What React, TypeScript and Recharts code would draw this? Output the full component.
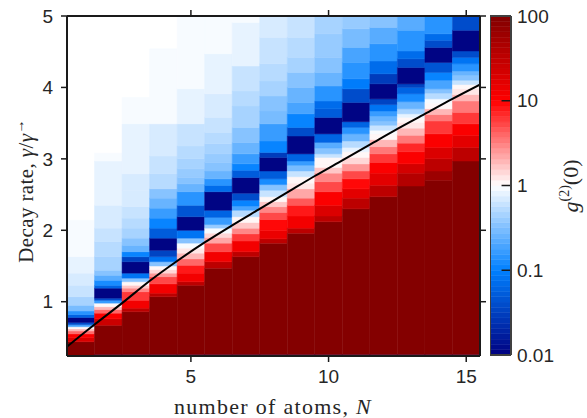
import React from 'react';
import { ComposedChart, XAxis, YAxis, ReferenceArea, ReferenceLine, Line } from 'recharts';

// number of atoms (columns)
const atomCounts = [1, 2, 3, 4, 5, 6, 7, 8, 9, 10, 11, 12, 13, 14, 15];
const gammaRange = [0.24, 5];

// each column: bands from the bottom up, [upper edge in gamma/gamma->, log10 g2(0)]
const col1 = [[0.44, 2.0], [0.5, 1.3], [0.55, 1.0], [0.59, 0.6], [0.62, 0.3], [0.65, 0.0], [0.68, -0.7], [0.71, -1.4], [0.78, -1.95], [0.82, -1.2], [0.87, -0.85], [0.95, -0.55], [1.07, -0.35], [1.23, -0.25], [1.4, -0.17], [1.63, -0.11], [2.14, -0.05]];
const col2 = [[0.26, -2], [0.67, 2.0], [0.76, 1.4], [0.84, 1.0], [0.89, 0.6], [0.93, 0.25], [0.98, 0.0], [1.02, -0.8], [1.05, -1.4], [1.19, -1.95], [1.23, -1.2], [1.3, -0.9], [1.37, -0.65], [1.44, -0.5], [1.63, -0.35], [1.84, -0.27], [2.03, -0.2], [2.35, -0.15], [2.97, -0.1], [3.08, -0.05]];
const col3 = [[0.26, -2], [0.86, 2.0], [0.91, 1.5], [1.02, 1.1], [1.14, 0.8], [1.19, 0.45], [1.23, 0.2], [1.28, 0.0], [1.33, -0.5], [1.4, -1.1], [1.56, -1.95], [1.63, -1.5], [1.7, -1.0], [1.79, -0.57], [1.89, -0.45], [2.03, -0.35], [2.17, -0.27], [2.33, -0.22], [2.56, -0.18], [2.79, -0.15], [3.04, -0.12], [3.49, -0.08], [3.86, -0.05]];
const col4 = [[0.26, -2], [1.07, 2.0], [1.12, 1.5], [1.25, 1.1], [1.35, 0.7], [1.4, 0.4], [1.45, 0.15], [1.5, 0.0], [1.56, -0.5], [1.63, -1.1], [1.72, -1.5], [1.89, -1.95], [2.03, -1.3], [2.17, -1.0], [2.31, -0.76], [2.45, -0.61], [2.58, -0.45], [2.79, -0.3], [3.04, -0.22], [3.49, -0.14], [4.54, -0.06]];
const col5 = [[0.26, -2], [1.23, 2.0], [1.28, 1.5], [1.4, 1.1], [1.51, 0.9], [1.6, 0.6], [1.68, 0.3], [1.75, 0.1], [1.82, -0.05], [1.89, -0.5], [2.0, -1.1], [2.19, -1.95], [2.35, -1.35], [2.54, -0.84], [2.65, -0.61], [2.74, -0.5], [2.86, -0.4], [3.0, -0.33], [3.18, -0.27], [3.49, -0.2], [3.98, -0.12], [5.0, -0.06]];
const col6 = [[0.26, -2], [1.47, 2.0], [1.56, 1.5], [1.7, 1.1], [1.82, 0.7], [1.9, 0.35], [1.96, 0.15], [2.03, -0.03], [2.08, -0.4], [2.18, -0.8], [2.28, -1.2], [2.54, -1.95], [2.63, -1.15], [2.72, -0.84], [2.83, -0.61], [2.95, -0.45], [3.07, -0.4], [3.21, -0.33], [3.37, -0.28], [3.58, -0.22], [3.91, -0.14], [4.47, -0.09], [5.0, -0.06]];
const col7 = [[0.26, -2], [1.63, 2.0], [1.7, 1.5], [1.85, 1.1], [1.95, 0.8], [2.03, 0.45], [2.11, 0.2], [2.19, 0.0], [2.28, -0.3], [2.34, -0.7], [2.42, -1.0], [2.52, -1.4], [2.74, -1.95], [2.84, -1.3], [2.93, -1.0], [3.07, -0.76], [3.23, -0.57], [3.44, -0.45], [3.74, -0.35], [3.95, -0.27], [4.3, -0.2], [4.91, -0.12], [5.0, -0.06]];
const col8 = [[0.26, -2], [1.82, 2.0], [1.88, 1.5], [2.0, 1.15], [2.15, 0.95], [2.25, 0.7], [2.33, 0.45], [2.4, 0.2], [2.47, 0.0], [2.56, -0.25], [2.64, -0.5], [2.72, -0.9], [2.83, -1.3], [3.02, -1.95], [3.09, -1.55], [3.25, -1.0], [3.49, -0.76], [3.67, -0.53], [3.88, -0.45], [4.09, -0.35], [4.33, -0.29], [4.7, -0.23], [5.0, -0.18]];
const col9 = [[0.26, -2], [1.96, 2.0], [2.03, 1.5], [2.2, 1.1], [2.35, 0.9], [2.45, 0.65], [2.58, 0.35], [2.66, 0.12], [2.75, 0.0], [2.83, -0.25], [2.91, -0.53], [2.97, -0.8], [3.07, -1.2], [3.32, -1.95], [3.44, -1.4], [3.63, -1.0], [3.79, -0.73], [4.0, -0.57], [4.21, -0.45], [4.42, -0.37], [4.7, -0.31], [5.0, -0.25]];
const col10 = [[0.26, -2], [2.12, 2.0], [2.2, 1.55], [2.35, 1.25], [2.54, 1.0], [2.68, 0.7], [2.8, 0.45], [2.88, 0.2], [2.93, 0.05], [3.02, 0.0], [3.07, -0.2], [3.15, -0.45], [3.23, -0.65], [3.35, -1.2], [3.58, -1.95], [3.7, -1.3], [3.81, -1.15], [4.02, -0.84], [4.21, -0.61], [4.42, -0.49], [4.75, -0.41], [5.0, -0.33]];
const col11 = [[0.26, -2], [2.3, 2.0], [2.45, 1.5], [2.58, 1.2], [2.72, 0.95], [2.83, 0.7], [2.93, 0.4], [3.02, 0.15], [3.1, 0.0], [3.16, -0.1], [3.25, -0.3], [3.35, -0.61], [3.44, -0.85], [3.52, -1.2], [3.79, -1.95], [3.98, -1.4], [4.12, -1.05], [4.35, -0.84], [4.56, -0.69], [4.82, -0.53], [5.0, -0.41]];
const col12 = [[0.26, -2], [2.47, 2.0], [2.63, 1.5], [2.8, 1.2], [2.95, 1.0], [3.07, 0.8], [3.17, 0.5], [3.27, 0.25], [3.35, 0.05], [3.4, -0.05], [3.47, -0.25], [3.53, -0.45], [3.6, -0.6], [3.67, -0.8], [3.76, -1.1], [3.84, -1.5], [4.05, -1.95], [4.19, -1.55], [4.37, -1.15], [4.61, -0.84], [4.84, -0.65], [5.0, -0.5]];
const col13 = [[0.26, -2], [2.62, 2.0], [2.8, 1.6], [2.93, 1.35], [3.1, 1.05], [3.22, 0.85], [3.33, 0.55], [3.43, 0.3], [3.51, 0.12], [3.58, 0.0], [3.63, -0.1], [3.7, -0.35], [3.8, -0.6], [3.91, -0.9], [4.0, -1.2], [4.05, -1.5], [4.28, -1.95], [4.4, -1.4], [4.51, -1.15], [4.8, -0.84], [5.0, -0.65]];
const col14 = [[0.26, -2], [2.7, 2.0], [2.83, 1.8], [3.0, 1.5], [3.16, 1.25], [3.35, 1.0], [3.53, 0.8], [3.62, 0.5], [3.7, 0.25], [3.78, 0.05], [3.84, -0.05], [3.92, -0.3], [3.98, -0.5], [4.1, -0.69], [4.21, -0.95], [4.35, -1.35], [4.56, -1.95], [4.66, -1.4], [4.75, -1.15], [5.0, -0.84]];
const col15 = [[0.26, -2], [2.97, 2.0], [3.16, 1.5], [3.33, 1.2], [3.49, 1.0], [3.65, 0.8], [3.81, 0.55], [3.9, 0.3], [3.98, 0.12], [4.04, 0.0], [4.1, -0.2], [4.17, -0.45], [4.23, -0.6], [4.33, -0.84], [4.42, -1.1], [4.51, -1.4], [4.8, -1.95], [5.0, -1.4]];
const columns = [col1, col2, col3, col4, col5, col6, col7, col8, col9, col10, col11, col12, col13, col14, col15];

// black boundary curve
const curveN = [0.5, 1.5, 2.5, 3.5, 4.5, 5.5, 6.5, 7.5, 8.5, 9.5, 10.5, 11.5, 12.5, 13.5, 14.5, 15.5];
const curveGamma = [0.37, 0.68, 0.98, 1.29, 1.57, 1.83, 2.07, 2.3, 2.53, 2.76, 2.98, 3.2, 3.42, 3.63, 3.84, 4.04];

const xRange = [0.5, 15.5];
const xTicks = [5, 10, 15];
const yTicks = [1, 2, 3, 4, 5];
// colorbar in log10 units
const cbRange = [-2, 2];
const cbTicks = [-2, -1, 0, 1, 2];
const cbTickLabels = ['0.01', '0.1', '1', '10', '100'];
const cbInnerTicks = [-1, 0, 1];

const LEVELS = 64;
const AX = '#262626';
const LINE = '#1a1a1a';
const TICK = 6;
const GAP = 8;
const PLOT_W = 413;
const PLOT_H = 340;
// outward tick length expressed in axis units (6 px)
const xTickLen = (xRange[1] - xRange[0]) * TICK / PLOT_W;
const yTickLen = (gammaRange[1] - gammaRange[0]) * TICK / PLOT_H;
const SANS = '"Liberation Sans", Arial, Helvetica, sans-serif';
const SERIF = '"Liberation Serif", "Times New Roman", serif';

function rawColor(v: number): string {
  let r = 0, g = 0, b = 0;
  if (v < -1) { const t = v + 2; r = 0; g = 128 * t; b = 128 + 127 * t; }
  else if (v < 0) { const t = v + 1; r = 255 * t; g = 128 + 127 * t; b = 255; }
  else if (v < 1) { const t = v; r = 255; g = 255 * (1 - t); b = 255 * (1 - t); }
  else { const t = Math.min(v - 1, 1); r = 255 - 127 * t; g = 0; b = 0; }
  return `rgb(${Math.round(r)},${Math.round(g)},${Math.round(b)})`;
}
function levelOf(v: number) {
  return Math.max(0, Math.min(LEVELS - 1, Math.floor((v + 2) * LEVELS / 4)));
}
function levelColor(l: number) {
  return rawColor(-2 + (l + 0.5) * 4 / LEVELS);
}
function color(v: number) {
  return levelColor(levelOf(v));
}

const curveData = curveN.map((n, i) => ({ n, g: curveGamma[i] }));
const cbLevels = Array.from({ length: LEVELS }, (_, i) => i);
const cbData = [{ x: 0 }, { x: 1 }];

const BottomLabel = (p: any) => (
  <text x={p.x} y={p.y} dy="0.71em" textAnchor="middle" fill={AX} fontSize={19} fontFamily={SANS}>{p.payload.value}</text>
);
const LeftLabel = (p: any) => (
  <text x={p.x} y={p.y} dy="0.355em" textAnchor="end" fill={AX} fontSize={19} fontFamily={SANS}>{p.payload.value}</text>
);
const Empty = () => <g />;

export default function App() {
  const cells: React.ReactNode[] = [];
  columns.forEach((segs, ci) => {
    const n = atomCounts[ci];
    let lo = gammaRange[0];
    segs.forEach(([top, v], si) => {
      const c = color(v);
      cells.push(
        <ReferenceArea key={`c${ci}-${si}`} x1={n - 0.5} x2={n + 0.5} y1={lo} y2={top}
          fill={c} fillOpacity={1} stroke={c} strokeWidth={0.5} ifOverflow="hidden" />
      );
      lo = top;
    });
  });

  const tickMarks: React.ReactNode[] = [];
  xTicks.forEach((t) => {
    tickMarks.push(<ReferenceLine key={`xb${t}`} segment={[{ x: t, y: gammaRange[0] }, { x: t, y: gammaRange[0] - yTickLen }]} stroke={LINE} strokeWidth={1.5} ifOverflow="visible" />);
    tickMarks.push(<ReferenceLine key={`xt${t}`} segment={[{ x: t, y: gammaRange[1] }, { x: t, y: gammaRange[1] + yTickLen }]} stroke={LINE} strokeWidth={1.5} ifOverflow="visible" />);
  });
  yTicks.forEach((t) => {
    tickMarks.push(<ReferenceLine key={`yl${t}`} segment={[{ x: xRange[0] - xTickLen, y: t }, { x: xRange[0], y: t }]} stroke={LINE} strokeWidth={1.5} ifOverflow="visible" />);
    tickMarks.push(<ReferenceLine key={`yr${t}`} segment={[{ x: xRange[1], y: t }, { x: xRange[1] + xTickLen, y: t }]} stroke={LINE} strokeWidth={1.5} ifOverflow="visible" />);
  });

  const tickStyle = { fill: AX, fontSize: 19, fontFamily: SANS };

  return (
    <div style={{ position: 'absolute', left: 0, top: 0, width: 587, height: 418, background: '#fff' }}>
      <div style={{ position: 'absolute', left: 0, top: 0 }}>
        <ComposedChart width={587} height={418} margin={{ top: 10, right: 101, bottom: 0, left: 0 }}>
          {cells}
          <Line data={curveData} dataKey="g" type="monotone" dot={false} stroke="#000" strokeWidth={2} isAnimationActive={false} />
          {tickMarks}
          <XAxis type="number" dataKey="n" domain={xRange} ticks={xTicks} allowDataOverflow interval={0}
            height={62} tickSize={TICK} tickMargin={GAP} stroke={LINE} strokeWidth={2} tickLine={false}
            tick={BottomLabel} />
          <XAxis xAxisId="top" orientation="top" type="number" dataKey="n" domain={xRange} ticks={xTicks}
            allowDataOverflow interval={0} height={6} tickSize={TICK} tickMargin={0} stroke={LINE} strokeWidth={2}
            tickLine={false} tick={Empty} />
          <YAxis type="number" domain={gammaRange} ticks={yTicks} allowDataOverflow interval={0}
            width={67} tickSize={TICK} tickMargin={GAP} stroke={LINE} strokeWidth={2} tickLine={false}
            tick={LeftLabel} />
          <YAxis yAxisId="right" orientation="right" type="number" domain={gammaRange} ticks={yTicks}
            allowDataOverflow interval={0} width={6} tickSize={TICK} tickMargin={0} stroke={LINE} strokeWidth={2}
            tickLine={false} tick={Empty} />
        </ComposedChart>
      </div>
      <div style={{ position: 'absolute', left: 490, top: 0 }}>
        <ComposedChart width={97} height={418} data={cbData} margin={{ top: 16, right: 0, bottom: 63, left: 0 }}>
          {cbLevels.map((l) => (
            <ReferenceArea key={`cb${l}`} x1={0} x2={1}
              y1={cbRange[0] + l * 4 / LEVELS} y2={cbRange[0] + (l + 1) * 4 / LEVELS}
              fill={levelColor(l)} fillOpacity={1} stroke={levelColor(l)} strokeWidth={0.5} ifOverflow="hidden" />
          ))}
          {cbInnerTicks.map((t) => (
            <ReferenceLine key={`t${t}`} segment={[{ x: 0.55, y: t }, { x: 1, y: t }]} stroke={LINE} strokeWidth={1.5} />
          ))}
          <ReferenceLine x={0} stroke="#404040" strokeWidth={2} ifOverflow="visible" />
          <ReferenceLine x={1} stroke="#404040" strokeWidth={2} ifOverflow="visible" />
          <ReferenceLine y={cbRange[0]} stroke="#404040" strokeWidth={2} ifOverflow="visible" />
          <ReferenceLine y={cbRange[1]} stroke="#404040" strokeWidth={2} ifOverflow="visible" />
          <XAxis type="number" dataKey="x" domain={[0, 1]} hide allowDataOverflow />
          <YAxis orientation="right" type="number" domain={cbRange} ticks={cbTicks}
            allowDataOverflow interval={0} width={76} axisLine={false} tickLine={false} tickSize={0} tickMargin={6}
            tickFormatter={(v: number) => cbTickLabels[cbTicks.indexOf(v)] ?? String(v)}
            tick={tickStyle} />
        </ComposedChart>
      </div>
      <svg width={587} height={418} style={{ position: 'absolute', left: 0, top: 0, pointerEvents: 'none' }}>
        <text x={273} y={414} textAnchor="middle" fontFamily={SERIF} fontSize={22} letterSpacing={1.3} fill={AX}>
          number of atoms, <tspan fontStyle="italic">N</tspan>
        </text>
        <text transform="translate(33,191) rotate(-90)" textAnchor="middle" fontFamily={SERIF} fontSize={21} letterSpacing={0.4} fill={AX}>
          Decay rate, <tspan fontStyle="italic">γ</tspan>/<tspan fontStyle="italic">γ</tspan>
          <tspan dy={-9} fontSize={14}>→</tspan>
        </text>
        <text transform="translate(578,186) rotate(-90)" textAnchor="middle" fontFamily={SERIF} fontSize={22} fill={AX}>
          <tspan fontStyle="italic">g</tspan><tspan dy={-9} fontSize={14}>(2)</tspan><tspan dy={9}>(0)</tspan>
        </text>
      </svg>
    </div>
  );
}
